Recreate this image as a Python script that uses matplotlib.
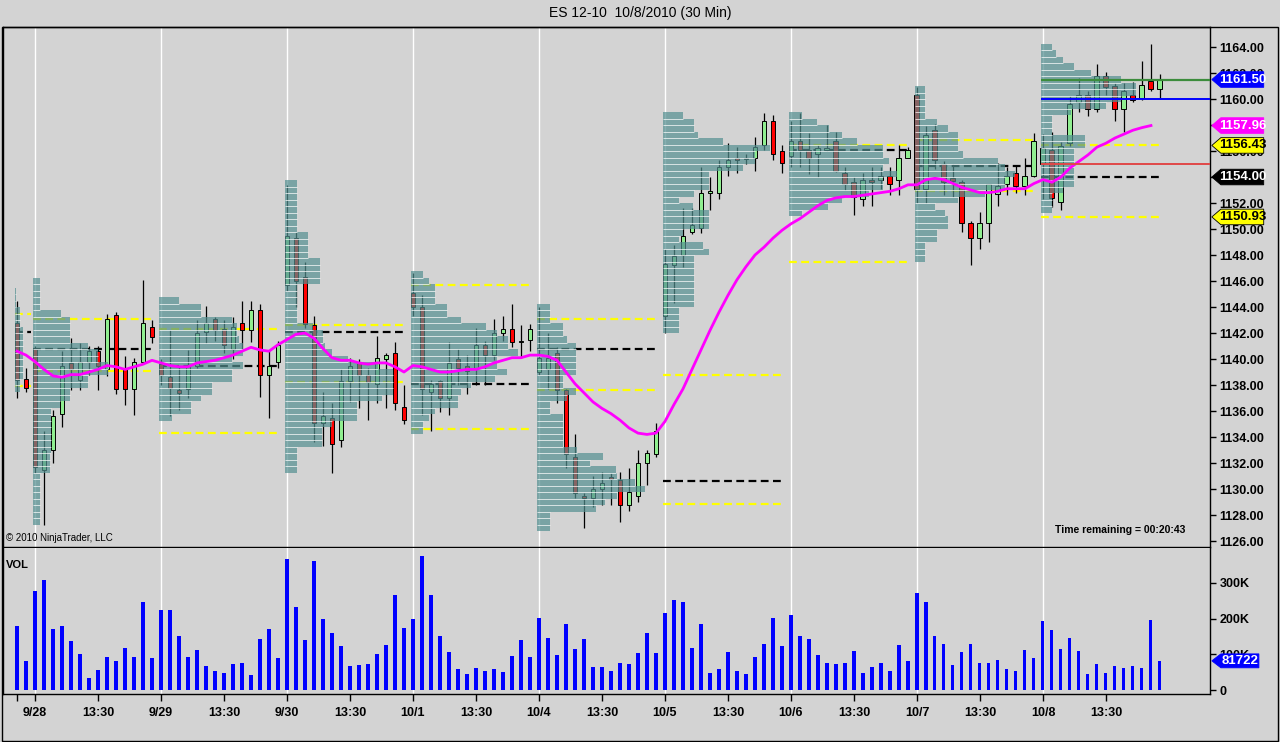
import matplotlib
matplotlib.use("Agg")
import matplotlib.pyplot as plt
from matplotlib.patches import Polygon, Rectangle
from matplotlib.transforms import blended_transform_factory

plt.rcParams['font.family'] = ['Liberation Sans', 'DejaVu Sans']

# ---- data (30 min bars, index 0 = first bar on screen) ----
opens = [1142.8, 1138.5, 1140.8, 1131.5, 1133.0, 1135.8, 1139.7, 1138.4, 1139.8, 1140.6, 1139.2, 1143.4, 1139.2, 1137.7, 1139.8, 1142.5,
         1139.6, 1138.6, 1137.6, 1137.7, 1139.5, 1142.1, 1143.1, 1142.3, 1140.8, 1142.8, 1142.2, 1143.8, 1138.8, 1139.8,
         1145.7, 1149.3, 1146.3, 1142.6, 1135.1, 1135.5, 1133.8, 1138.3, 1139.7, 1138.8, 1138.1, 1140.0, 1140.5, 1136.3,
         1145.1, 1144.0, 1137.5, 1138.3, 1137.0, 1140.0, 1139.5, 1139.2, 1141.1, 1140.3, 1142.0, 1142.3, 1141.3, 1141.5,
         1139.0, 1139.2, 1140.5, 1137.6, 1132.5, 1129.5, 1129.3, 1130.0, 1130.9, 1130.7, 1128.8, 1129.5, 1132.0, 1132.7,
         1143.3, 1147.2, 1148.0, 1149.8, 1150.1, 1152.8, 1152.8, 1154.8, 1155.5, 1155.4, 1155.5, 1156.5, 1158.3, 1156.0,
         1155.6, 1156.8, 1156.1, 1155.8, 1156.1, 1156.8, 1154.3, 1153.6, 1152.3, 1153.8, 1153.8, 1154.1, 1153.8, 1155.5,
         1160.3, 1153.1, 1157.6, 1155.0, 1153.9, 1153.6, 1150.5, 1149.3, 1150.5, 1152.7, 1153.5, 1154.3, 1153.3, 1154.1,
         1155.0, 1156.1, 1152.1, 1156.6, 1159.8, 1160.3, 1159.2, 1161.8, 1161.0, 1159.2, 1160.3, 1160.1, 1161.4, 1160.8]
highs = [1144.5, 1139.3, 1141.0, 1134.5, 1136.1, 1140.6, 1141.6, 1141.2, 1141.0, 1141.0, 1143.5, 1143.6, 1140.2, 1140.1, 1146.1, 1143.0,
         1140.0, 1142.2, 1139.5, 1140.7, 1143.0, 1144.1, 1143.2, 1143.0, 1143.2, 1144.5, 1144.5, 1144.2, 1140.7, 1141.4,
         1153.4, 1149.8, 1147.5, 1143.3, 1137.5, 1136.6, 1139.2, 1140.1, 1140.0, 1139.3, 1141.8, 1140.5, 1141.3, 1138.0,
         1146.6, 1144.9, 1138.4, 1138.4, 1141.3, 1140.8, 1140.3, 1142.4, 1141.4, 1143.1, 1143.3, 1144.2, 1142.6, 1142.7,
         1144.0, 1142.0, 1140.9, 1137.7, 1134.2, 1129.7, 1131.0, 1131.3, 1131.2, 1131.3, 1131.6, 1133.0, 1133.0, 1135.1,
         1148.5, 1148.8, 1151.6, 1151.6, 1154.8, 1154.0, 1155.3, 1156.6, 1156.3, 1155.8, 1157.1, 1158.9, 1158.8, 1156.5,
         1158.3, 1158.9, 1157.4, 1156.5, 1158.0, 1157.5, 1154.8, 1154.0, 1154.3, 1154.8, 1154.8, 1154.8, 1156.5, 1156.3,
         1160.9, 1157.9, 1158.1, 1155.2, 1155.0, 1153.8, 1150.6, 1151.3, 1153.5, 1155.1, 1154.8, 1154.9, 1155.5, 1157.4,
         1157.3, 1157.5, 1156.7, 1160.2, 1161.6, 1160.6, 1162.7, 1162.1, 1161.2, 1161.2, 1161.3, 1162.9, 1164.2, 1161.9]
lows = [1137.0, 1137.5, 1131.2, 1127.2, 1132.0, 1134.8, 1137.6, 1137.6, 1138.8, 1137.6, 1138.7, 1137.3, 1136.5, 1135.7, 1139.7, 1141.2,
        1138.0, 1135.6, 1136.1, 1137.0, 1139.3, 1141.2, 1141.4, 1140.5, 1140.0, 1140.7, 1141.3, 1137.1, 1135.5, 1139.3,
        1145.2, 1144.0, 1142.4, 1133.6, 1133.3, 1131.2, 1133.2, 1136.7, 1136.2, 1135.3, 1136.6, 1136.2, 1136.1, 1135.0,
        1143.3, 1135.7, 1134.5, 1135.9, 1135.7, 1138.0, 1137.3, 1138.0, 1138.0, 1139.9, 1141.4, 1140.9, 1140.1, 1140.6,
        1138.8, 1137.7, 1136.6, 1131.6, 1129.3, 1127.0, 1128.6, 1128.8, 1128.8, 1127.5, 1128.3, 1129.0, 1130.3, 1132.5,
        1142.0, 1144.3, 1147.1, 1149.6, 1149.7, 1151.5, 1152.3, 1154.1, 1154.3, 1155.0, 1154.5, 1156.1, 1155.3, 1154.3,
        1154.8, 1154.8, 1154.2, 1154.0, 1156.0, 1154.4, 1153.0, 1151.1, 1151.8, 1151.8, 1153.1, 1152.6, 1152.6, 1155.5,
        1152.0, 1152.0, 1154.6, 1152.6, 1152.5, 1149.8, 1147.2, 1148.5, 1149.0, 1151.8, 1152.6, 1152.8, 1152.6, 1154.0,
        1152.3, 1151.7, 1151.5, 1156.4, 1159.0, 1158.7, 1159.0, 1160.3, 1158.3, 1157.5, 1159.8, 1159.9, 1160.6, 1160.1]
closes = [1138.4, 1137.8, 1131.7, 1133.0, 1135.6, 1139.5, 1139.2, 1139.8, 1140.6, 1139.5, 1143.1, 1137.7, 1137.7, 1139.8, 1142.8, 1141.7,
          1138.8, 1137.8, 1137.4, 1139.5, 1142.0, 1142.8, 1142.2, 1141.1, 1142.5, 1142.2, 1143.8, 1138.8, 1139.5, 1141.1,
          1149.5, 1146.0, 1142.7, 1135.1, 1135.6, 1133.5, 1138.3, 1139.5, 1138.8, 1138.2, 1140.1, 1140.3, 1136.6, 1135.3,
          1144.0, 1137.7, 1138.1, 1137.0, 1139.7, 1139.3, 1139.1, 1141.1, 1140.3, 1142.0, 1142.3, 1141.3, 1141.4, 1142.3,
          1140.1, 1140.1, 1137.6, 1132.7, 1129.7, 1129.3, 1130.0, 1130.5, 1130.8, 1128.8, 1129.8, 1132.0, 1132.8, 1134.5,
          1147.3, 1147.9, 1149.5, 1150.3, 1152.8, 1152.9, 1154.8, 1155.3, 1155.3, 1155.5, 1156.3, 1158.3, 1155.8, 1155.1,
          1156.8, 1156.1, 1155.5, 1156.2, 1156.2, 1154.5, 1153.5, 1152.5, 1153.8, 1153.6, 1154.1, 1153.5, 1155.5, 1156.1,
          1153.1, 1157.2, 1155.3, 1153.6, 1153.7, 1150.5, 1149.3, 1150.5, 1153.5, 1153.3, 1154.1, 1153.3, 1154.1, 1156.8,
          1156.2, 1152.4, 1156.4, 1159.6, 1160.3, 1159.2, 1161.8, 1160.9, 1159.2, 1160.6, 1159.9, 1161.1, 1160.8, 1161.5]

volume_k = [178, 82, 277, 308, 172, 178, 138, 102, 34, 56, 93, 82, 119, 93, 246, 90,
            223, 223, 152, 93, 113, 68, 54, 48, 73, 76, 42, 144, 172, 90,
            367, 234, 141, 361, 200, 161, 124, 68, 71, 73, 102, 127, 265, 175,
            200, 375, 265, 152, 107, 59, 45, 62, 54, 59, 51, 96, 141, 93,
            203, 147, 99, 186, 116, 144, 65, 65, 54, 76, 73, 104, 161, 104,
            217, 251, 248, 119, 186, 48, 59, 107, 54, 45, 93, 130, 203, 124,
            209, 150, 144, 99, 76, 73, 76, 110, 48, 65, 76, 54, 127, 82,
            271, 248, 152, 130, 71, 107, 130, 76, 76, 85, 59, 54, 113, 90,
            192, 169, 116, 147, 110, 45, 73, 48, 68, 62, 68, 62, 195, 81.722]

ma = [1140.6, 1140.3, 1139.8, 1139.2, 1138.7, 1138.6, 1138.8, 1138.8, 1139.0, 1139.2, 1139.5, 1139.4, 1139.2, 1139.4, 1139.6, 1139.9,
      1139.7, 1139.5, 1139.4, 1139.4, 1139.7, 1139.8, 1139.9, 1140.1, 1140.3, 1140.6, 1140.9, 1140.7, 1140.6, 1141.1,
      1141.5, 1141.9, 1142.0, 1141.6, 1140.8, 1140.1, 1139.9, 1139.9, 1139.7, 1139.6, 1139.7, 1139.7, 1139.4, 1139.0,
      1139.5, 1139.4, 1139.2, 1139.0, 1139.0, 1139.1, 1139.2, 1139.2, 1139.4, 1139.7, 1139.9, 1140.1, 1140.1, 1140.3,
      1140.3, 1140.2, 1139.9, 1139.0, 1138.1, 1137.4, 1136.7, 1136.2, 1135.8, 1135.3, 1134.7, 1134.3, 1134.2, 1134.3,
      1135.2, 1136.5, 1137.7, 1139.2, 1140.7, 1142.2, 1143.6, 1144.9, 1146.1, 1147.1, 1148.0, 1148.6, 1149.3, 1149.9,
      1150.4, 1150.8, 1151.3, 1151.8, 1152.2, 1152.4, 1152.5, 1152.5, 1152.6, 1152.7, 1152.8, 1152.9, 1153.1, 1153.4,
      1153.4, 1153.8, 1153.9, 1153.8, 1153.5, 1153.2, 1153.0, 1152.8, 1152.8, 1152.9, 1153.1, 1153.1, 1153.1, 1153.5,
      1153.8, 1153.6, 1154.0, 1154.7, 1155.2, 1155.7, 1156.3, 1156.6, 1157.0, 1157.3, 1157.6, 1157.8, 1157.96]

day_labels = ['9/28', '9/29', '9/30', '10/1', '10/4', '10/5', '10/6', '10/7', '10/8']
day_start = [2, 16, 30, 44, 58, 72, 86, 100, 114]

# volume profile per session: first bar, top price of first 0.5pt row, volume (K) per row
prof_start = [0, 2, 16, 30, 44, 58, 72, 86, 100, 114]
prof_top = [1145.5, 1146.25, 1144.75, 1153.75, 1146.75, 1144.25, 1159.0, 1159.0, 1161.0, 1164.25]
prof_vol = [
    [1, 1, 1, 5, 5, 5, 8, 8, 8, 8, 8, 8, 8, 8, 5, 5],
    [7, 7, 7, 7, 7, 28, 37, 37, 37, 37, 55, 65, 65, 75, 75, 55, 55, 37, 37, 27, 18, 18, 18, 18, 18, 18, 18,
     17, 17, 17, 7, 7, 7, 7, 7, 7, 7, 7],
    [20, 42, 42, 73, 78, 78, 80, 84, 84, 73, 84, 73, 73, 53, 53, 42, 32, 32, 13],
    [12, 12, 12, 12, 12, 12, 12, 12, 23, 23, 23, 23, 35, 35, 35, 35, 12, 12, 12, 12, 12, 12, 28, 38, 38, 40,
     47, 63, 93, 108, 108, 108, 108, 97, 72, 72, 72, 47, 37, 37, 37, 12, 12, 12, 12],
    [12, 18, 24, 24, 24, 36, 36, 50, 75, 86, 97, 97, 107, 86, 86, 96, 84, 60, 50, 47, 47, 24, 18, 12, 12],
    [13, 13, 13, 26, 26, 30, 39, 39, 39, 39, 39, 26, 26, 39, 30, 13, 13, 26, 26, 26, 26, 26, 40, 66, 53, 79,
     80, 98, 108, 80, 68, 59, 13, 13, 13],
    [20, 31, 31, 35, 60, 107, 92, 92, 80, 46, 46, 46, 31, 16, 30, 46, 46, 46, 20, 16, 40, 46, 31, 31, 31, 31,
     31, 31, 31, 31, 16, 16, 16, 16],
    [13, 28, 40, 53, 68, 94, 94, 100, 94, 108, 94, 94, 80, 53, 39, 13],
    [10, 10, 10, 10, 10, 22, 33, 43, 43, 43, 48, 83, 90, 100, 90, 90, 70, 43, 20, 30, 33, 33, 22, 22, 10, 10, 10],
    [11, 15, 22, 33, 50, 80, 95, 95, 80, 65, 30, 11, 11, 11, 44, 44, 33, 33, 33, 33, 33, 33, 22, 11, 11, 11],
]
K_PER_BAR = 9.0

# value area high / point of control / value area low drawn on each session
lvl_start = [0, 2, 16, 30, 44, 58, 72, 86, 100, 114]
lvl_len = [1.7, 13.5, 13.5, 13.5, 13.5, 13.5, 13.5, 13.5, 13.5, 13.5]
vah = [1143.5, 1143.1, 1142.3, 1142.6, 1145.7, 1143.1, 1138.8, 1156.5, 1156.85, 1156.43]
poc = [1142.1, 1140.8, 1139.5, 1142.05, 1138.1, 1140.8, 1130.6, 1156.1, 1154.85, 1154.0]
val = [1137.9, 1139.1, 1134.3, 1138.2, 1134.6, 1137.6, 1128.85, 1147.5, 1152.9, 1150.93]

last_price = 1161.50
ma_last = 1157.96
level_blue = 1160.0
level_red = 1155.0

BG = '#D3D3D3'
fig = plt.figure(figsize=(12.8, 7.42), dpi=100, facecolor=BG)
W, H = 1280.0, 742.0
ax = fig.add_axes([3 / W, (H - 547) / H, 1207 / W, 520 / H], facecolor=BG)
axv = fig.add_axes([3 / W, (H - 694) / H, 1207 / W, 146 / H], facecolor=BG)

n = len(opens)
xs = list(range(n))
XL = (-1.556, 132.56)

# session separators
for d in day_start:
    ax.axvline(d, color='white', lw=1, zorder=0.5)
    axv.axvline(d, color='white', lw=1, zorder=0.5)

# value area levels (under the profile)
for s, ln, a, p, b in zip(lvl_start, lvl_len, vah, poc, val):
    x0, x1 = s - 0.2, s - 0.2 + ln
    ax.hlines([a, b], x0, x1, colors='#FFFF00', lw=1.6, linestyles=(0, (3.5, 2)), zorder=1)
    ax.hlines(p, x0, x1, colors='black', lw=1.6, linestyles=(0, (3.5, 2)), zorder=1)

# candles
ax.vlines(xs, lows, highs, color='black', lw=0.9, zorder=2)
for i in xs:
    o, c = opens[i], closes[i]
    col = '#90EE90' if c >= o else '#FF0000'
    ax.bar(i, max(abs(c - o), 0.1), bottom=min(o, c), width=0.55, color=col,
           edgecolor='black', lw=0.7, zorder=2.1)

# volume profiles (semi-transparent, over the candles)
for s, top, vols in zip(prof_start, prof_top, prof_vol):
    left = s - 0.2
    centers = [top - 0.25 - 0.5 * k for k in range(len(vols))]
    ax.barh(centers, [v / K_PER_BAR for v in vols], left=left, height=0.5,
            color='#538F90', alpha=0.7, lw=0, zorder=3)
    for k in range(len(vols) - 1):
        w = min(vols[k], vols[k + 1]) / K_PER_BAR
        ax.hlines(top - 0.5 * (k + 1), left, left + w, colors='white', lw=0.7, alpha=0.7, zorder=3.1)

# moving average
ax.plot(range(len(ma)), ma, color='#FF00FF', lw=2, zorder=5)

# current session levels
xs_last = day_start[-1] - 0.2
ax.hlines(last_price, xs_last, XL[1], colors='#3C8C3C', lw=1.6, zorder=5)
ax.hlines(level_blue, xs_last, XL[1], colors='#0000FF', lw=1.4, zorder=5)
ax.hlines(level_red, xs_last, XL[1], colors='#E04848', lw=1.4, zorder=5)

ax.set_xlim(*XL)
ax.set_ylim(1125.54, 1165.54)
ax.yaxis.tick_right()
price_ticks = [1126 + 2 * k for k in range(20)]
ax.set_yticks(price_ticks)
# labels fully hidden behind the price tags are left out
ax.set_yticklabels(['' if p in (1154, 1158) else '%.2f' % p for p in price_ticks])
ax.tick_params(axis='y', direction='out', length=4, width=1, pad=3, labelsize=9)
for t in ax.get_yticklabels():
    t.set_fontweight('bold')
ax.tick_params(axis='x', bottom=False, labelbottom=False)
for sp in ax.spines.values():
    sp.set_color('black')
    sp.set_linewidth(1)

# volume panel
axv.bar(xs, [v * 1000 for v in volume_k], width=0.34, color='#0000FF', zorder=2)
axv.set_xlim(*XL)
axv.set_ylim(-11200, 398000)
axv.yaxis.tick_right()
axv.set_yticks([0, 100000, 200000, 300000])
axv.set_yticklabels(['0', '100K', '200K', '300K'])
axv.tick_params(axis='y', direction='out', length=4, width=1, pad=3, labelsize=9)
xt = [0] + day_start + [d + 7 for d in day_start]
xl = [''] + day_labels + ['13:30'] * len(day_start)
axv.set_xticks(xt)
axv.set_xticklabels(xl)
axv.tick_params(axis='x', direction='out', length=5, width=1, pad=4, labelsize=9)
for t in axv.get_yticklabels() + axv.get_xticklabels():
    t.set_fontweight('bold')
axv.spines['top'].set_visible(False)
for sp in ['left', 'right', 'bottom']:
    axv.spines[sp].set_color('black')
    axv.spines[sp].set_linewidth(1)


def tag(axis, y, text, face, tc, h, x1=1.0445, ec=None):
    tr = blended_transform_factory(axis.transAxes, axis.transData)
    x0, xp = 1.0015, 1.009
    poly = Polygon([(x0, y), (xp, y + h), (x1, y + h), (x1, y - h), (xp, y - h)], closed=True,
                   transform=tr, facecolor=face, edgecolor=ec or face, lw=0.6, clip_on=False, zorder=10)
    axis.add_patch(poly)
    axis.text((xp + x1) / 2 + 0.0005, y, text, transform=tr, ha='center', va='center', color=tc,
              fontweight='bold', fontsize=9.5, clip_on=False, zorder=11)


ph = 0.6
tag(ax, last_price, '%.2f' % last_price, '#0000FF', 'white', ph)
tag(ax, ma_last, '%.2f' % ma_last, '#FF00FF', 'white', ph)
tag(ax, vah[-1], '%.2f' % vah[-1], '#FFFF00', 'black', ph, ec='black')
tag(ax, poc[-1], '%.2f' % poc[-1], 'black', 'white', ph)
tag(ax, val[-1], '%.2f' % val[-1], '#FFFF00', 'black', ph, ec='black')
tag(axv, volume_k[-1] * 1000, '%d' % round(volume_k[-1] * 1000), '#0000FF', 'white', 19500, x1=1.0405)

ax.text(0.0025, 0.017, '\u00a9 2010 NinjaTrader, LLC', transform=ax.transAxes, fontsize=7,
        ha='left', va='center', zorder=12)
ax.text(0.980, 0.033, 'Time remaining = 00:20:43', transform=ax.transAxes, fontsize=7.5,
        fontweight='bold', ha='right', va='center', zorder=12)
axv.text(0.0025, 0.884, 'VOL', transform=axv.transAxes, fontsize=8, fontweight='bold',
         ha='left', va='center')

fig.text(0.5, 1 - 13 / H, 'ES 12-10  10/8/2010 (30 Min)', ha='center', va='center', fontsize=10)
fig.add_artist(Rectangle((2 / W, 1 / H), 1276 / W, 714 / H, transform=fig.transFigure,
                         fill=False, edgecolor='black', lw=1))

fig.savefig('out.png', dpi=100, facecolor=BG)
